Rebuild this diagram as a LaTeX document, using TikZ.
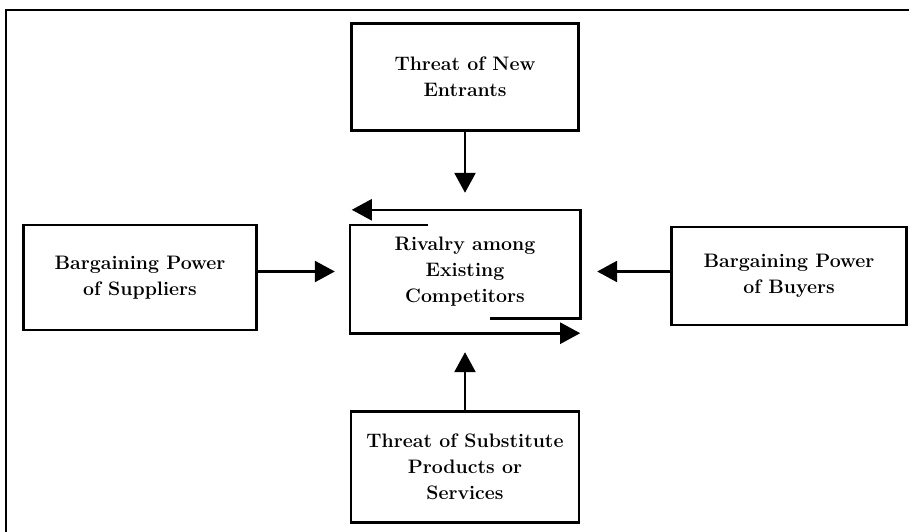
\documentclass[tikz,border=0pt]{standalone}
\usepackage{fontspec}
\definecolor{inkcolor}{rgb}{0, 0, 0}
\usetikzlibrary{arrows.meta,positioning}
\tikzset{
	force/.style={
		rectangle,
		draw=inkcolor,
		line width=2.6pt,
		fill=white,
		align=center,
		inner sep=0pt,
		font=\fontsize{19.5}{26}\selectfont\bfseries
	},
	rivalry/.style={
		rectangle,
		align=center,
		inner sep=0pt,
		minimum width=230pt,
		minimum height=123pt,
		font=\fontsize{19.5}{26}\selectfont\bfseries
	},
	arrow/.style={
		draw=inkcolor,
		line width=2.6pt,
		-{Triangle[length=20pt,width=21pt]}
	},
	frame/.style={
		draw=inkcolor,
		line width=2pt
	},
}

\begin{document}
\begin{tikzpicture}[x=1pt,y=-1pt]
	\useasboundingbox (0,0) rectangle (909,532);
	\draw[frame] (909,10) -- (6,10) -- (6,532);

	\node [rivalry] (rival) at (465,271.5) {Rivalry among\\Existing\\Competitors};
	\node [force,minimum width=227pt,minimum height=107pt] (entrants) [above=78pt of rival] {Threat of New\\Entrants};
	\node [force,minimum width=228pt,minimum height=111pt] (substitutes) [below=77pt of rival] {Threat of Substitute\\Products or\\Services};
	\node [force,minimum width=233pt,minimum height=105pt] (suppliers) [left=92pt of rival,yshift=-6pt] {Bargaining Power\\of Suppliers};
	\node [force,minimum width=235pt,minimum height=98pt] (buyers) [right=90pt of rival,yshift=-4.5pt] {Bargaining Power\\of Buyers};

	% the two turning arrows round the rivalry
	\draw[arrow] ([xshift=-90pt,yshift=15pt]rival.south east) -- ([yshift=15pt]rival.south east) -- (rival.north east) -- ([xshift=2pt]rival.north west);
	\draw[arrow] ([xshift=78pt,yshift=-15pt]rival.north west) -- ([yshift=-15pt]rival.north west) -- (rival.south west) -- (rival.south east);

	\draw[arrow,shorten >=17pt] (entrants) -- (rival);
	\draw[arrow,shorten >=19pt] (substitutes) -- (rival);
	\draw[arrow,shorten >=15pt] (suppliers.east |- rival.west) -- (rival.west);
	\draw[arrow,shorten >=17pt] (buyers.west |- rival.east) -- (rival.east);
\end{tikzpicture}
\end{document}
